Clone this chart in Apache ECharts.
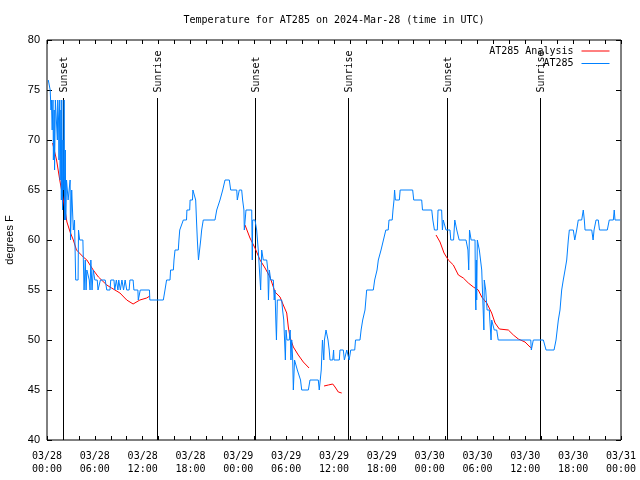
<!DOCTYPE html>
<html>
<head>
<meta charset="utf-8">
<script src="https://cdn.jsdelivr.net/npm/echarts@6/dist/echarts.min.js"></script>
<style>html,body{margin:0;padding:0;background:#fff}#c{width:640px;height:480px}</style>
</head>
<body>
<div id="c"></div>
<script>
// Observations: [hours since 2024-03-28 00:00 UTC, degrees F]
const blueObs = [[0.16,76],[0.35,76],[0.4,75],[0.5,73],[0.55,74],[0.65,71],[0.75,74],[0.8,68],[0.9,73],[0.95,67],[1.05,74],[1.2,74],[1.3,70],[1.35,74],[1.45,72],[1.5,68],[1.6,74],[1.65,66],[1.75,73],[1.8,64],[1.85,74],[1.95,63],[2.0,70],[2.1,65],[2.15,74],[2.2,62],[2.3,69],[2.35,62],[2.45,66],[2.65,64],[2.9,66],[2.95,60],[3.1,65],[3.3,61],[3.45,62],[3.6,56],[3.9,56],[3.95,61],[4.1,60],[4.5,60],[4.65,55],[4.75,55],[4.8,58],[4.9,55],[5.0,57],[5.2,57],[5.3,56],[5.4,55],[5.5,58],[5.65,55],[5.8,57],[6.0,56],[6.3,56],[6.4,55],[6.7,56],[7.3,56],[7.5,55],[7.9,55],[8.0,56],[8.4,56],[8.5,55],[8.7,56],[8.9,55],[9.0,56],[9.2,55],[9.4,56],[9.6,55],[9.8,56],[10.0,55],[10.3,55],[10.4,56],[10.8,56],[10.9,55],[11.4,55],[11.45,54],[11.65,54],[11.7,55],[12.85,55],[12.9,54],[14.59,54],[14.8,55],[15.0,56],[15.43,56],[15.5,57],[15.85,57],[15.93,58],[16.06,59],[16.47,59],[16.55,60],[16.65,61],[16.9,61],[17.1,62],[17.5,62],[17.55,63],[17.9,63],[17.95,64],[18.25,64],[18.3,65],[18.55,65],[18.65,64],[18.75,62],[18.86,60],[19.0,58],[19.2,58],[19.28,60],[19.4,61],[19.6,62],[21.07,62],[21.29,63],[21.7,64],[22.04,65],[22.33,66],[22.87,66],[23.04,65],[23.8,65],[23.87,64],[24.04,64],[24.12,65],[24.42,65],[24.54,64],[24.7,63],[24.75,61],[24.84,61],[24.96,63],[25.68,63],[25.75,58],[25.8,62],[26.09,62],[26.3,61],[26.5,59],[26.72,59],[26.8,55],[26.93,59],[27.13,58],[27.56,58],[27.7,57],[27.78,54],[27.89,57],[28.06,56],[28.39,56],[28.5,54],[28.6,55],[28.7,52],[28.78,50],[28.89,54],[29.44,54],[29.55,53],[29.7,52],[29.85,52],[29.9,48],[29.98,51],[30.1,50],[30.39,50],[30.5,51],[30.6,48],[30.7,50],[30.82,48],[30.9,45],[30.95,46],[31.05,48],[31.23,48],[31.4,47],[31.65,47],[31.8,46],[31.95,45],[32.78,45],[32.99,46],[34.03,46],[34.15,45],[34.25,45],[34.4,47],[34.55,50],[34.66,50],[34.72,48],[34.8,50],[35.0,51],[35.16,51],[35.25,50],[35.4,49],[35.5,48],[35.84,48],[35.95,49],[36.0,48],[36.67,48],[36.75,49],[37.17,49],[37.3,48],[37.5,48],[37.6,49],[37.9,48],[38.0,48],[38.1,49],[38.6,49],[38.7,50],[39.26,50],[39.4,51],[39.6,52],[39.89,53],[40.1,55],[40.93,55],[41.1,56],[41.27,56],[41.4,57],[41.56,58],[41.77,58],[41.9,59],[42.1,59],[42.2,60],[42.4,60],[42.5,61],[42.8,61],[42.9,62],[43.3,62],[43.4,63],[43.53,64],[43.6,65],[43.7,64],[43.87,64],[44.2,64],[44.3,65],[45.87,65],[46.0,64],[47.0,64],[47.1,63],[48.26,63],[48.4,62],[48.6,61],[48.96,61],[49.05,63],[49.5,63],[49.6,61],[49.7,62],[49.93,62],[50.05,61],[50.55,61],[50.65,60],[51.0,60],[51.15,62],[51.4,61],[51.7,60],[52.56,60],[52.8,59],[52.9,57],[53.0,61],[53.2,60],[53.69,60],[53.75,54],[53.8,53],[53.85,58],[53.9,54],[53.98,60],[54.23,59],[54.53,57],[54.73,57],[54.8,51],[54.85,56],[55.03,55],[55.2,53],[55.48,53],[55.55,52],[55.7,50],[55.78,52],[55.98,52],[56.1,51],[56.41,51],[56.6,50],[60.68,50],[60.75,49],[60.9,49],[61.0,50],[62.26,50],[62.6,49],[63.6,49],[63.85,50],[64.14,52],[64.35,53],[64.56,55],[64.76,56],[64.98,57],[65.19,58],[65.39,60],[65.52,61],[66.02,61],[66.2,60],[66.44,61],[66.64,62],[67.07,62],[67.27,63],[67.4,62],[67.49,61],[68.33,61],[68.5,60],[68.62,61],[68.87,62],[69.15,62],[69.3,61],[70.28,61],[70.53,62],[71.04,62],[71.15,63],[71.25,62],[71.9,62]];

// Analysis: [hours since 2024-03-28 00:00 UTC, degrees F]; null = gap
const redObs = [[0.7,69.7],[1.2,68],[1.6,66],[2.05,64],[2.5,61.8],[2.9,60.8],[3.3,60],[3.7,59],[4.55,58.3],[5.0,58],[5.8,57],[6.45,56.3],[7.5,55.5],[8.1,55.2],[9.15,54.7],[10.0,54],[10.8,53.6],[11.65,54],[12.5,54.2],[12.9,54.4],[18,null],[24.84,61.5],[25.46,60.2],[26.09,59.2],[26.72,58],[27.35,57.2],[27.97,56.3],[28.6,54.8],[29.23,54.3],[29.64,53.5],[30.07,52.7],[30.27,51.3],[30.48,50.3],[30.9,49.3],[31.52,48.5],[32.15,47.8],[32.87,47.2],[33.8,null],[34.75,45.4],[35.29,45.5],[35.84,45.6],[36.13,45.3],[36.54,44.8],[36.97,44.7],[42,null],[48.8,60.5],[49.3,59.8],[49.8,58.7],[50.34,58],[50.97,57.5],[51.6,56.5],[52.22,56.2],[52.85,55.7],[53.48,55.3],[54.1,55],[54.53,54.3],[55.16,53.7],[55.78,52.7],[56.2,51.7],[56.74,51.1],[57.87,51],[58.5,50.5],[59.12,50.1],[59.96,49.8],[60.59,49.3],[60.8,49.2]];

const sunHours = [2.04, 13.84, 26.13, 37.79, 50.21, 61.88];
const sunLabels = ['Sunset', 'Sunrise', 'Sunset', 'Sunrise', 'Sunset', 'Sunrise'];

const seriesNames = ['AT285 Analysis', 'AT285'];
const titleText = 'Temperature for AT285 on 2024-Mar-28 (time in UTC)';
const yName = 'degrees F';

const BASE = Date.UTC(2024, 2, 28, 0, 0, 0);
const HOUR = 3600000;
const toTs = h => BASE + Math.round(h * HOUR);
const pad = n => (n < 10 ? '0' : '') + n;
const MONO = '"DejaVu Sans Mono", monospace';
const SANS = '"Liberation Sans", Arial, sans-serif';

const chart = echarts.init(document.getElementById('c'), null, {renderer: 'canvas'});

const xCommon = {
  type: 'value', min: BASE, max: BASE + 72 * HOUR, interval: 6 * HOUR,
  axisLine: {show: false}, splitLine: {show: false},
  axisTick: {show: true, inside: true, length: 4, lineStyle: {color: '#000', width: 1}},
  minorTick: {show: true, splitNumber: 3, length: 4, lineStyle: {color: '#000', width: 1}},
  minorSplitLine: {show: false}
};
const yCommon = {
  type: 'value', min: 40, max: 80, interval: 5,
  axisLine: {show: false}, splitLine: {show: false},
  axisTick: {show: true, inside: true, length: 5, lineStyle: {color: '#000', width: 1}}
};

chart.setOption({
  animation: false,
  backgroundColor: '#fff',
  title: {
    text: titleText, left: 334, top: 15, textAlign: 'center', padding: 0,
    textStyle: {fontFamily: MONO, fontSize: 10, fontWeight: 'normal', color: '#000'}
  },
  legend: {
    orient: 'vertical', right: 30, top: 46, align: 'right', padding: 0,
    itemWidth: 28, itemHeight: 10, itemGap: 2.5,
    itemStyle: {opacity: 0},
    lineStyle: {width: 1},
    textStyle: {fontFamily: MONO, fontSize: 10, color: '#000', padding: [0, 3, 0, 0]},
    data: seriesNames
  },
  grid: {left: 47, right: 19, top: 40, bottom: 40, outerBoundsMode: 'none', containLabel: false,
         show: true, borderColor: '#000', borderWidth: 1, backgroundColor: 'transparent'},
  xAxis: [
    Object.assign({}, xCommon, {
      position: 'bottom',
      axisLabel: {
        margin: 10, fontFamily: MONO, fontSize: 10, color: '#000', lineHeight: 13,
        showMinLabel: true, showMaxLabel: true,
        formatter: v => {
          const d = new Date(v);
          return pad(d.getUTCMonth() + 1) + '/' + pad(d.getUTCDate()) + '\n' + pad(d.getUTCHours()) + ':' + pad(d.getUTCMinutes());
        }
      }
    }),
    Object.assign({}, xCommon, {position: 'top', axisLabel: {show: false}})
  ],
  yAxis: [
    Object.assign({}, yCommon, {
      position: 'left',
      name: yName, nameLocation: 'middle', nameGap: 32, nameRotate: 90,
      nameTextStyle: {fontFamily: SANS, fontSize: 11, color: '#000'},
      axisLabel: {margin: 7, fontFamily: SANS, fontSize: 11, color: '#000'}
    }),
    Object.assign({}, yCommon, {position: 'right', axisLabel: {show: false}})
  ],
  series: [
    {
      type: 'custom', name: 'sun', z: 1, silent: true,
      data: sunHours.map(h => [toTs(h), 40]),
      renderItem: function (params, api) {
        const t = api.value(0);
        const p0 = api.coord([t, 40]);
        const p1 = api.coord([t, 74.2]);
        const p2 = api.coord([t, 74.75]);
        const x = Math.round(p0[0]) + 0.5;
        return {
          type: 'group',
          children: [
            {type: 'line', shape: {x1: x, y1: p0[1], x2: x, y2: p1[1]}, style: {stroke: '#000', lineWidth: 1}},
            {type: 'text', x: x + 0.5, y: p2[1], rotation: Math.PI / 2,
             style: {text: sunLabels[params.dataIndex], fill: '#000', font: '10px ' + MONO, align: 'left', verticalAlign: 'middle'}}
          ]
        };
      }
    },
    {
      type: 'line', name: seriesNames[0], z: 2, symbol: 'none', connectNulls: false,
      lineStyle: {color: '#ff0000', width: 1}, itemStyle: {color: '#ff0000'},
      data: redObs.map(p => [toTs(p[0]), p[1] === null ? '-' : p[1]])
    },
    {
      type: 'line', name: seriesNames[1], z: 3, symbol: 'none',
      lineStyle: {color: '#0080ff', width: 1}, itemStyle: {color: '#0080ff'},
      data: blueObs.map(p => [toTs(p[0]), p[1]])
    }
  ]
});
</script>
</body>
</html>
